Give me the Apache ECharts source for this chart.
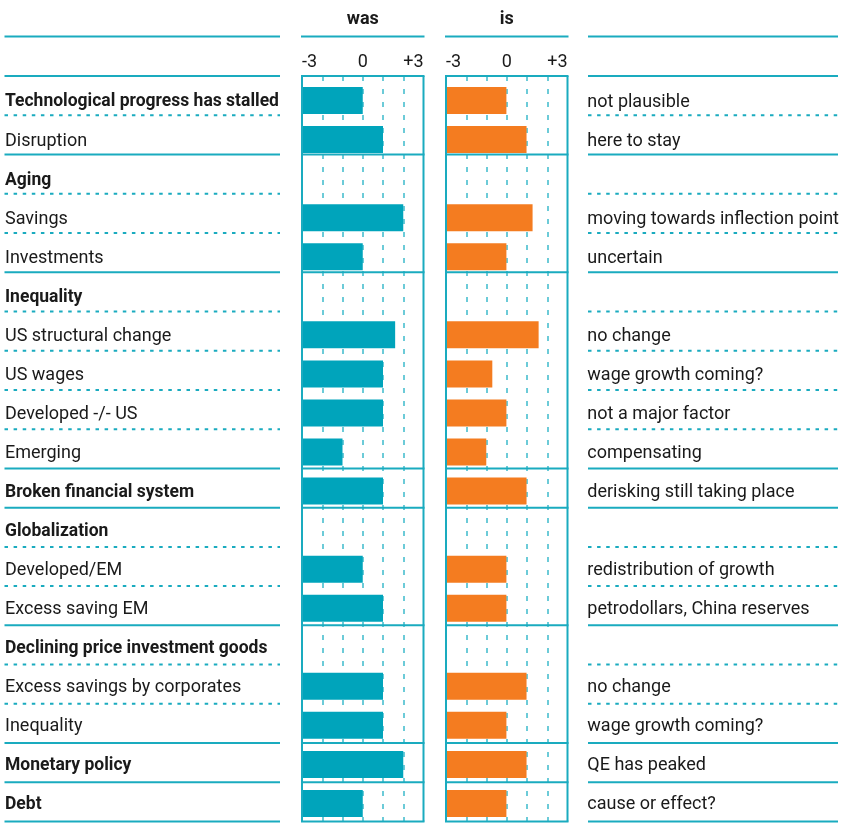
<!DOCTYPE html>
<html>
<head>
<meta charset="utf-8">
<script src="https://cdn.jsdelivr.net/npm/echarts@6/dist/echarts.min.js"></script>
<style>
  html, body { margin: 0; padding: 0; background: #fff; }
  #chart { width: 842px; height: 823px; }
</style>
</head>
<body>
<div id="chart"></div>
<script>
// row labels, top to bottom
const categories = [
  'Technological progress has stalled', 'Disruption',
  'Aging', 'Savings', 'Investments',
  'Inequality', 'US structural change', 'US wages', 'Developed -/- US', 'Emerging',
  'Broken financial system',
  'Globalization', 'Developed/EM', 'Excess saving EM',
  'Declining price investment goods', 'Excess savings by corporates', 'Inequality',
  'Monetary policy',
  'Debt'
];
const wasValues = [0, 1, null, 2, 0, null, 1.6, 1, 1, -1, 1, null, 0, 1, null, 1, 1, 2, 0];
const isValues = [0, 1, null, 1.3, 0, null, 1.6, -0.7, 0, -1, 1, null, 0, 0, null, 1, 0, 1, 0];
const notes = [
  'not plausible', 'here to stay',
  '', 'moving towards inflection point', 'uncertain',
  '', 'no change', 'wage growth coming?', 'not a major factor', 'compensating',
  'derisking still taking place',
  '', 'redistribution of growth', 'petrodollars, China reserves',
  '', 'no change', 'wage growth coming?',
  'QE has peaked',
  'cause or effect?'
];
const boldRows = [0, 2, 5, 10, 11, 14, 17, 18];
const groupEnds = [1, 4, 9, 10, 13, 16, 17, 18];
const scaleMin = -3;
const scaleMax = 3;
const tickLabels = { '-3': '-3', '0': '0', '3': '+3' };

const TEAL = '#00a4bb';
const LINE = '#1aabbf';
const ORANGE = '#f47c20';
const TEXT = '#1a1a1a';
const FONT = 'Roboto';

const TOP = 76;
const ROW_H = 39.24;
const PANEL_H = ROW_H * categories.length;
const BAR_SHIFT = 5;
const PANEL_W = 121.5;
const panels = [
  { name: 'was', left: 302, values: wasValues, color: TEAL },
  { name: 'is', left: 446, values: isValues, color: ORANGE }
];

const chart = echarts.init(document.getElementById('chart'));

// bars start at the left edge (-3), so shift values onto a 0..6 scale
const shift = (v) => (v == null ? null : v - scaleMin);

const grids = [];
const xAxes = [];
const yAxes = [];
const series = [];

panels.forEach((p, i) => {
  // frame grid: dashed guides, tick labels and header
  grids.push({ left: p.left, top: TOP, width: PANEL_W, height: PANEL_H });
  // bar grid, rows shifted down a little
  grids.push({ left: p.left, top: TOP + BAR_SHIFT, width: PANEL_W, height: PANEL_H });

  xAxes.push({
    gridIndex: i * 2,
    type: 'value',
    position: 'top',
    min: 0,
    max: scaleMax - scaleMin,
    interval: 1,
    name: p.name,
    nameLocation: 'middle',
    nameGap: 48,
    nameTextStyle: { fontFamily: FONT, fontSize: 18, fontWeight: 'bold', color: TEXT },
    axisLine: { show: false },
    axisTick: { show: false },
    axisLabel: {
      margin: 5,
      fontFamily: FONT,
      fontSize: 18,
      color: TEXT,
      alignMinLabel: 'left',
      alignMaxLabel: 'right',
      formatter: (v) => tickLabels[String(v + scaleMin)] || ''
    },
    splitLine: {
      show: true,
      showMinLine: false,
      showMaxLine: false,
      lineStyle: { color: '#3dbacb', width: 1.5, type: [5, 8] }
    }
  });
  xAxes.push({
    gridIndex: i * 2 + 1,
    type: 'value',
    min: 0,
    max: scaleMax - scaleMin,
    show: false
  });

  yAxes.push({
    gridIndex: i * 2,
    type: 'category',
    inverse: true,
    data: categories,
    show: false
  });
  yAxes.push({
    gridIndex: i * 2 + 1,
    type: 'category',
    inverse: true,
    data: i === 0 ? categories : notes,
    position: i === 0 ? 'left' : 'right',
    axisLine: { show: false },
    axisTick: { show: false },
    splitLine: { show: false },
    axisLabel: {
      interval: 0,
      margin: i === 0 ? p.left - 5 : 588 - (p.left + PANEL_W),
      align: 'left',
      padding: [3, 0, 0, 0],
      fontFamily: FONT,
      color: TEXT,
      formatter: (value, index) => {
        const text = i === 0 ? categories[index] : notes[index];
        return i === 0 && boldRows.includes(index) ? '{b|' + text + '}' : '{r|' + text + '}';
      },
      rich: {
        b: { fontFamily: FONT, fontSize: 17.5, fontWeight: 'bold', color: TEXT },
        r: { fontFamily: FONT, fontSize: 18, color: TEXT }
      }
    }
  });

  series.push({
    type: 'bar',
    name: p.name,
    xAxisIndex: i * 2 + 1,
    yAxisIndex: i * 2 + 1,
    barWidth: 27,
    itemStyle: { color: p.color },
    silent: true,
    data: p.values.map(shift)
  });
});

// rules and frames
const graphics = [];
function hline(x1, x2, y, dotted) {
  graphics.push({
    type: 'line',
    z: 100,
    silent: true,
    shape: { x1: x1, y1: y, x2: x2, y2: y },
    style: { stroke: LINE, lineWidth: 2, lineDash: dotted ? [3.5, 5.6] : null }
  });
}
function vline(x, y1, y2) {
  graphics.push({
    type: 'line',
    z: 100,
    silent: true,
    shape: { x1: x, y1: y1, x2: x, y2: y2 },
    style: { stroke: LINE, lineWidth: 2 }
  });
}

const columns = [[4.5, 280], [588, 838]];
[36.5, TOP].forEach((y) => {
  columns.forEach((c) => hline(c[0], c[1], y, false));
  panels.forEach((p) => hline(p.left - 1, p.left + PANEL_W + 1, y, false));
});
categories.forEach((c, k) => {
  const y = TOP + (k + 1) * ROW_H;
  const solid = groupEnds.includes(k);
  columns.forEach((col) => hline(col[0], col[1], y, !solid));
  if (solid) {
    panels.forEach((p) => hline(p.left - 1, p.left + PANEL_W + 1, y, false));
  }
});
panels.forEach((p) => {
  vline(p.left, TOP, TOP + PANEL_H);
  vline(p.left + PANEL_W, TOP, TOP + PANEL_H);
});

chart.setOption({
  animation: false,
  backgroundColor: '#fff',
  grid: grids,
  xAxis: xAxes,
  yAxis: yAxes,
  series: series,
  graphic: graphics
});
</script>
</body>
</html>
